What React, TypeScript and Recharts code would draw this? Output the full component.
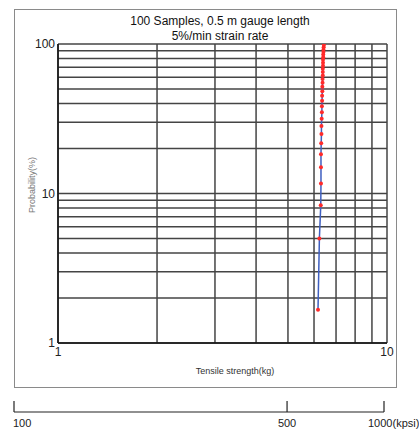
import React from 'react';
import { LineChart, Line, XAxis, YAxis, CartesianGrid } from 'recharts';

// ---- data ----
const PROBABILITY = [1.67, 5, 8.33, 11.67, 15, 18.33, 21.67, 25, 28.33, 31.67, 35, 38.33, 41.67, 45, 48.33, 51.67, 55, 58.33, 61.67, 65, 68.33, 71.67, 75, 78.33, 81.67, 85, 88.33, 91.67, 95, 98.33];
const STRENGTH = [6.17, 6.23, 6.29, 6.3, 6.3, 6.3, 6.31, 6.32, 6.32, 6.33, 6.34, 6.34, 6.35, 6.35, 6.36, 6.36, 6.37, 6.37, 6.38, 6.38, 6.38, 6.39, 6.39, 6.39, 6.4, 6.4, 6.41, 6.41, 6.42, 6.43];
const X_TICKS = [1, 2, 3, 4, 5, 6, 7, 8, 9, 10];
const Y_TICKS = [1, 2, 3, 4, 5, 6, 7, 8, 9, 10, 20, 30, 40, 50, 60, 70, 80, 90, 100];
const X_LABELED = [1, 10];
const Y_LABELED = [1, 10, 100];
const KPSI_TICKS = [100, 500, 1000];
const TITLE_LINES = ['100 Samples, 0.5 m gauge length', '5%/min strain rate'];

const data = PROBABILITY.map((p, i) => ({ kg: STRENGTH[i], p }));
const kpsiData = KPSI_TICKS.map((v) => ({ kpsi: v, base: 0 }));

// piecewise scale for the secondary (kpsi) strip: relative position of each stop along the strip
function makeKpsiScale(stops: number[], fractions: number[]): any {
  let dom: any = [stops[0], stops[stops.length - 1]];
  let rng: any = [0, 1];
  const scale: any = (v: number) => {
    let i = 0;
    while (i < stops.length - 2 && v > stops[i + 1]) i++;
    const t = (v - stops[i]) / (stops[i + 1] - stops[i]);
    const f = fractions[i] + t * (fractions[i + 1] - fractions[i]);
    return rng[0] + f * (rng[1] - rng[0]);
  };
  scale.domain = (d?: any) => {
    if (d === undefined) return dom;
    dom = d;
    return scale;
  };
  scale.range = (r?: any) => {
    if (r === undefined) return rng;
    rng = r;
    return scale;
  };
  scale.copy = () => makeKpsiScale(stops, fractions).domain(dom).range(rng);
  scale.ticks = () => stops;
  return scale;
}
const kpsiScale = makeKpsiScale(KPSI_TICKS, [0, 0.738, 1]);

const FONT = '"Liberation Sans", Arial, sans-serif';

const KpsiTick = (props: any) => {
  const { x, y, payload, index } = props;
  const last = index === KPSI_TICKS.length - 1;
  const first = index === 0;
  const label = last ? `${payload.value}(kpsi)` : String(payload.value);
  return (
    <g>
      <line x1={x} y1={y} x2={x} y2={y - 11} stroke="#222" strokeWidth={1.2} />
      <text
        x={first ? x - 1 : last ? x - 16 : x}
        y={y + 15}
        textAnchor={first || last ? 'start' : 'middle'}
        fontSize={11}
        fontFamily={FONT}
        fill="#222"
      >
        {label}
      </text>
    </g>
  );
};

export default function App() {
  return (
    <div style={{ position: 'absolute', left: 0, top: 0, width: 419, height: 431, background: '#fff', fontFamily: FONT }}>
      <div
        style={{
          position: 'absolute',
          left: 14,
          top: 9,
          width: 383,
          height: 379,
          border: '1.5px solid #8a8a8a',
          boxSizing: 'border-box',
        }}
      />
      <svg width={419} height={431} style={{ position: 'absolute', left: 0, top: 0 }}>
        <text x={220} y={25} textAnchor="middle" fontSize={12} fontFamily={FONT} fill="#111">
          {TITLE_LINES[0]}
        </text>
        <text x={220} y={39.5} textAnchor="middle" fontSize={12} fontFamily={FONT} fill="#111">
          {TITLE_LINES[1]}
        </text>
        <text
          x={34.5}
          y={185}
          textAnchor="middle"
          fontSize={9}
          fontFamily={FONT}
          fill="#777"
          transform="rotate(-90 34.5 185)"
        >
          Probability(%)
        </text>
        <text x={235} y={373.5} textAnchor="middle" fontSize={9} fontFamily={FONT} fill="#333">
          Tensile strength(kg)
        </text>
      </svg>
      <div style={{ position: 'absolute', left: 0, top: 0 }}>
        <LineChart width={419} height={431} data={data} margin={{ top: 44, right: 32, left: 0, bottom: 58 }}>
          <CartesianGrid stroke="#444" strokeWidth={1.5} />
          <XAxis
            dataKey="kg"
            type="number"
            scale="log"
            domain={[1, 10]}
            allowDataOverflow
            ticks={X_TICKS}
            interval={0}
            height={30}
            tickSize={0}
            tickMargin={4}
            tickLine={false}
            axisLine={{ stroke: '#111', strokeWidth: 1.5 }}
            tick={{ fontSize: 12, fill: '#222', fontFamily: FONT }}
            tickFormatter={(v: number) => (X_LABELED.includes(v) ? String(v) : '')}
          />
          <YAxis
            dataKey="p"
            type="number"
            scale="log"
            domain={[1, 100]}
            allowDataOverflow
            ticks={Y_TICKS}
            interval={0}
            width={58}
            tickSize={0}
            tickMargin={3}
            tickLine={false}
            axisLine={{ stroke: '#111', strokeWidth: 1.5 }}
            tick={{ fontSize: 12, fill: '#222', fontFamily: FONT }}
            tickFormatter={(v: number) => (Y_LABELED.includes(v) ? String(v) : '')}
          />
          <Line
            dataKey="p"
            stroke="#3f5fc0"
            strokeWidth={1.5}
            dot={{ r: 2, fill: '#ff2a2a', stroke: 'none' }}
            isAnimationActive={false}
          />
        </LineChart>
      </div>
      <div style={{ position: 'absolute', left: 0, top: 389 }}>
        <LineChart width={419} height={42} data={kpsiData} margin={{ top: 0, right: 35, left: 14, bottom: 0 }}>
          <XAxis
            type="number"
            dataKey="kpsi"
            scale={kpsiScale}
            domain={[100, 1000]}
            ticks={KPSI_TICKS}
            interval={0}
            height={19}
            tickSize={0}
            tickMargin={0}
            tickLine={false}
            axisLine={{ stroke: '#222', strokeWidth: 1.2 }}
            tick={(p: any) => <KpsiTick {...p} />}
          />
          <YAxis hide />
          <Line dataKey="base" stroke="none" dot={false} isAnimationActive={false} />
        </LineChart>
      </div>
    </div>
  );
}
